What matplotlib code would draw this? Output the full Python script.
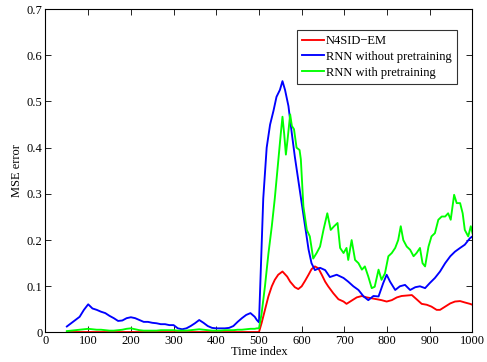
import matplotlib
matplotlib.use("Agg")
import matplotlib.pyplot as plt

plt.rcParams['font.family'] = ['Liberation Serif', 'DejaVu Serif']
plt.rcParams['mathtext.fontset'] = 'stix'

# ---------------- data ----------------
early_x = [50, 60, 70, 80, 90, 100, 110, 120, 130, 140, 150, 160, 170, 180, 190,
           200, 210, 220, 230, 240, 250, 260, 270, 280, 290, 300, 310, 320, 330,
           340, 350, 360, 370, 380, 390, 400, 410, 420, 430, 440, 450, 460, 470,
           480, 490, 495]

blue_early = [0.013, 0.020, 0.027, 0.034, 0.049, 0.061, 0.052, 0.049, 0.045, 0.042,
              0.036, 0.031, 0.025, 0.026, 0.031, 0.033, 0.031, 0.027, 0.023, 0.023,
              0.021, 0.020, 0.018, 0.018, 0.016, 0.016, 0.009, 0.007, 0.009, 0.014,
              0.020, 0.027, 0.021, 0.014, 0.010, 0.009, 0.009, 0.009, 0.010, 0.014,
              0.023, 0.031, 0.038, 0.042, 0.034, 0.027]

green_early = [0.003, 0.004, 0.005, 0.006, 0.007, 0.008, 0.007, 0.006, 0.006, 0.005,
               0.004, 0.004, 0.005, 0.006, 0.008, 0.009, 0.007, 0.005, 0.004, 0.004,
               0.004, 0.004, 0.005, 0.005, 0.005, 0.005, 0.004, 0.004, 0.004, 0.005,
               0.006, 0.007, 0.006, 0.005, 0.004, 0.004, 0.004, 0.005, 0.005, 0.005,
               0.006, 0.006, 0.007, 0.008, 0.008, 0.009]

red_early = [0.001] * 46

blue_late_x = [500, 510, 518, 526, 534, 541, 549, 555, 561, 569, 577, 584, 592, 600,
               608, 616, 623, 631, 643, 655, 666, 682, 698, 709, 721, 733, 745, 756,
               768, 780, 791, 799, 807, 819, 830, 842, 854, 866, 877, 889, 900, 912,
               924, 936, 948, 959, 971, 982, 994, 1000]
blue_late = [0.022, 0.29, 0.40, 0.45, 0.48, 0.51, 0.525, 0.544, 0.525, 0.49, 0.43,
             0.38, 0.33, 0.28, 0.23, 0.18, 0.15, 0.135, 0.14, 0.135, 0.12, 0.125,
             0.118, 0.11, 0.10, 0.092, 0.078, 0.07, 0.079, 0.078, 0.107, 0.125,
             0.11, 0.092, 0.10, 0.103, 0.092, 0.098, 0.10, 0.096, 0.107, 0.118,
             0.132, 0.15, 0.165, 0.175, 0.183, 0.19, 0.204, 0.208]

green_late_x = [500, 506, 514, 522, 530, 537, 545, 551, 555, 559, 563, 567, 573, 577,
                582, 588, 595, 598, 604, 612, 619, 627, 635, 643, 651, 660, 668, 676,
                684, 690, 698, 705, 709, 717, 725, 733, 741, 748, 756, 764, 771, 780,
                787, 795, 803, 811, 819, 826, 832, 838, 846, 854, 862, 869, 877, 883,
                889, 897, 904, 912, 920, 928, 936, 943, 949, 957, 963, 971, 977, 982,
                990, 996, 1000]
green_late = [0.009, 0.04, 0.10, 0.17, 0.23, 0.29, 0.37, 0.43, 0.467, 0.43, 0.385,
              0.418, 0.472, 0.447, 0.44, 0.40, 0.395, 0.375, 0.273, 0.222, 0.208,
              0.16, 0.172, 0.186, 0.222, 0.258, 0.222, 0.23, 0.237, 0.183, 0.172,
              0.183, 0.157, 0.20, 0.157, 0.15, 0.136, 0.143, 0.121, 0.096, 0.099,
              0.136, 0.114, 0.128, 0.165, 0.172, 0.183, 0.20, 0.23, 0.20, 0.186,
              0.179, 0.165, 0.172, 0.183, 0.15, 0.143, 0.186, 0.208, 0.215, 0.244,
              0.251, 0.251, 0.258, 0.244, 0.298, 0.28, 0.28, 0.258, 0.222, 0.208,
              0.23, 0.215]

red_late_x = [500, 506, 514, 522, 530, 537, 545, 555, 566, 573, 584, 592, 600, 608,
              616, 623, 631, 639, 647, 655, 662, 674, 686, 698, 705, 717, 729, 741,
              752, 764, 776, 787, 799, 811, 823, 834, 846, 858, 869, 881, 893, 904,
              916, 924, 936, 948, 959, 971, 982, 994, 1000]
red_late = [0.001, 0.02, 0.049, 0.078, 0.10, 0.114, 0.125, 0.132, 0.121, 0.11,
            0.098, 0.094, 0.10, 0.112, 0.125, 0.137, 0.143, 0.139, 0.125, 0.11,
            0.10, 0.085, 0.072, 0.067, 0.062, 0.069, 0.076, 0.079, 0.076, 0.074,
            0.072, 0.07, 0.067, 0.07, 0.076, 0.079, 0.08, 0.081, 0.072, 0.062,
            0.06, 0.056, 0.049, 0.049, 0.056, 0.063, 0.067, 0.068, 0.065, 0.062,
            0.06]

labels = ["N4SID\u2212EM", "RNN without pretraining", "RNN with pretraining"]
xticks = [0, 100, 200, 300, 400, 500, 600, 700, 800, 900, 1000]
yticks = [0, 0.1, 0.2, 0.3, 0.4, 0.5, 0.6, 0.7]
ytick_labels = ["0", "0.1", "0.2", "0.3", "0.4", "0.5", "0.6", "0.7"]

# ---------------- plot ----------------
fig = plt.figure(figsize=(4.87, 3.62), dpi=100)
ax = fig.add_axes([0.0934, 0.0815, 0.8768, 0.8935])

lw = 1.35
ax.plot(early_x + red_late_x, red_early + red_late, color='#ff0000', lw=lw, label=labels[0])
ax.plot(early_x + blue_late_x, blue_early + blue_late, color='#0000ff', lw=lw, label=labels[1])
ax.plot(early_x + green_late_x, green_early + green_late, color='#00ff00', lw=lw, label=labels[2])

ax.set_xlim(0, 1000)
ax.set_ylim(0, 0.7)
ax.set_xticks(xticks)
ax.set_yticks(yticks)
ax.set_yticklabels(ytick_labels)
ax.tick_params(direction='in', top=True, right=True, labelsize=9, length=4, width=0.6, pad=2)
for s in ax.spines.values():
    s.set_linewidth(0.8)

ax.set_xlabel("Time index", fontsize=9, labelpad=-1)
ax.set_ylabel("MSE error", fontsize=9, labelpad=3)

leg = ax.legend(loc='upper right', bbox_to_anchor=(0.963, 0.935), fontsize=9,
                frameon=True, fancybox=False, edgecolor='black', handlelength=1.8,
                handletextpad=0.15, borderpad=0.4, labelspacing=0.3, borderaxespad=0)
leg.get_frame().set_linewidth(0.8)

fig.savefig("out.png", dpi=100)
